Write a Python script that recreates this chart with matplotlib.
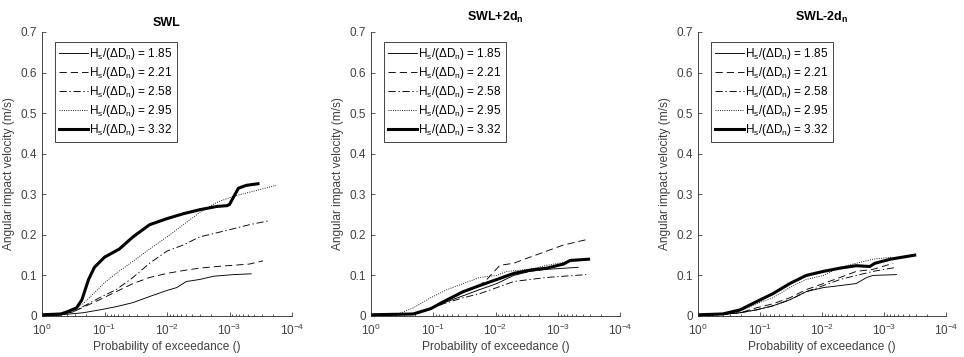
import matplotlib
matplotlib.use("Agg")
import matplotlib.pyplot as plt
import numpy as np

plt.rcParams['font.family'] = ['Liberation Sans', 'DejaVu Sans']
plt.rcParams['mathtext.fontset'] = 'custom'
plt.rcParams['mathtext.rm'] = 'Liberation Sans'
plt.rcParams['mathtext.it'] = 'Liberation Sans'
plt.rcParams['mathtext.bf'] = 'Liberation Sans:bold'
plt.rcParams['mathtext.default'] = 'regular'

titles = ['SWL', r'SWL+2d$_\mathbf{n}$', r'SWL-2d$_\mathbf{n}$']
labels = ['1.85', '2.21', '2.58', '2.95', '3.32']

# ---- SWL ----
swl_p_185 = [1, 0.5, 0.22, 0.12, 0.065, 0.035, 0.019, 0.01, 0.007, 0.0049, 0.003, 0.0018, 0.00087, 0.00045]
swl_v_185 = [0.001, 0.003, 0.008, 0.015, 0.023, 0.033, 0.048, 0.063, 0.07, 0.085, 0.09, 0.098, 0.102, 0.104]
swl_p_221 = [1, 0.5, 0.32, 0.12, 0.065, 0.035, 0.019, 0.01, 0.0055, 0.003, 0.0016, 0.00087, 0.00048, 0.00029]
swl_v_221 = [0.001, 0.003, 0.01, 0.04, 0.06, 0.08, 0.095, 0.105, 0.112, 0.118, 0.122, 0.125, 0.128, 0.136]
swl_p_258 = [1, 0.5, 0.32, 0.12, 0.065, 0.035, 0.019, 0.01, 0.0055, 0.003, 0.0016, 0.00087, 0.00048, 0.00023]
swl_v_258 = [0.001, 0.003, 0.01, 0.045, 0.065, 0.095, 0.13, 0.16, 0.175, 0.195, 0.205, 0.215, 0.225, 0.235]
swl_p_295 = [1, 0.5, 0.4, 0.22, 0.1, 0.065, 0.035, 0.019, 0.01, 0.0055, 0.003, 0.0016, 0.00087, 0.00048, 0.00018]
swl_v_295 = [0.002, 0.004, 0.008, 0.03, 0.082, 0.105, 0.135, 0.165, 0.195, 0.225, 0.255, 0.28, 0.295, 0.305, 0.322]
swl_p_332 = [1, 0.5, 0.4, 0.28, 0.23, 0.18, 0.145, 0.1, 0.058, 0.035, 0.019, 0.01, 0.0055, 0.003, 0.0016, 0.0011, 0.001, 0.00072, 0.00054, 0.00035]
swl_v_332 = [0.003, 0.005, 0.01, 0.02, 0.04, 0.09, 0.12, 0.145, 0.165, 0.195, 0.225, 0.24, 0.252, 0.262, 0.27, 0.272, 0.275, 0.315, 0.322, 0.326]

# ---- SWL+2dn ----
up_p_185 = [1, 0.21, 0.11, 0.069, 0.033, 0.018, 0.0095, 0.0051, 0.0028, 0.0015, 0.00047]
up_v_185 = [0.002, 0.004, 0.018, 0.032, 0.05, 0.065, 0.08, 0.1, 0.11, 0.115, 0.12]
up_p_221 = [1, 0.21, 0.11, 0.069, 0.033, 0.018, 0.0138, 0.0085, 0.0051, 0.0028, 0.0015, 0.00081, 0.00035]
up_v_221 = [0.003, 0.005, 0.018, 0.035, 0.06, 0.075, 0.09, 0.125, 0.13, 0.145, 0.16, 0.175, 0.188]
up_p_258 = [1, 0.21, 0.11, 0.069, 0.033, 0.018, 0.0095, 0.0051, 0.0028, 0.0015, 0.00081, 0.00035]
up_v_258 = [0.002, 0.004, 0.018, 0.03, 0.045, 0.055, 0.07, 0.085, 0.09, 0.095, 0.098, 0.102]
up_p_295 = [1, 0.39, 0.21, 0.11, 0.06, 0.033, 0.018, 0.0095, 0.0066, 0.0028, 0.0015, 0.00081, 0.00035]
up_v_295 = [0.002, 0.003, 0.02, 0.045, 0.065, 0.08, 0.095, 0.1, 0.11, 0.115, 0.125, 0.132, 0.138]
up_p_332 = [1, 0.21, 0.11, 0.069, 0.033, 0.018, 0.0095, 0.0051, 0.0028, 0.0015, 0.00081, 0.00063, 0.00032]
up_v_332 = [0.003, 0.005, 0.018, 0.035, 0.06, 0.075, 0.09, 0.105, 0.113, 0.118, 0.128, 0.137, 0.14]

# ---- SWL-2dn ----
dn_p_185 = [1, 0.4, 0.21, 0.115, 0.062, 0.033, 0.018, 0.0095, 0.0051, 0.0028, 0.0019, 0.0015, 0.00063]
dn_v_185 = [0.002, 0.004, 0.008, 0.015, 0.025, 0.04, 0.06, 0.07, 0.075, 0.08, 0.095, 0.1, 0.102]
dn_p_221 = [1, 0.4, 0.21, 0.115, 0.062, 0.033, 0.018, 0.0095, 0.0051, 0.0028, 0.0015, 0.00071]
dn_v_221 = [0.002, 0.004, 0.008, 0.02, 0.03, 0.045, 0.065, 0.08, 0.095, 0.11, 0.115, 0.13]
dn_p_258 = [1, 0.4, 0.21, 0.115, 0.062, 0.033, 0.018, 0.0095, 0.0051, 0.0028, 0.0015, 0.00063]
dn_v_258 = [0.002, 0.004, 0.008, 0.015, 0.025, 0.04, 0.06, 0.075, 0.09, 0.1, 0.11, 0.12]
dn_p_295 = [1, 0.4, 0.21, 0.115, 0.062, 0.033, 0.018, 0.0095, 0.0051, 0.0028, 0.0015, 0.00074]
dn_v_295 = [0.002, 0.004, 0.012, 0.03, 0.045, 0.07, 0.09, 0.1, 0.12, 0.13, 0.14, 0.145]
dn_p_332 = [1, 0.4, 0.21, 0.115, 0.062, 0.033, 0.018, 0.0095, 0.0051, 0.0028, 0.0017, 0.0014, 0.00079, 0.00032]
dn_v_332 = [0.003, 0.005, 0.015, 0.035, 0.055, 0.08, 0.1, 0.11, 0.118, 0.124, 0.122, 0.13, 0.14, 0.15]

panels = [
    [(swl_p_185, swl_v_185), (swl_p_221, swl_v_221), (swl_p_258, swl_v_258), (swl_p_295, swl_v_295), (swl_p_332, swl_v_332)],
    [(up_p_185, up_v_185), (up_p_221, up_v_221), (up_p_258, up_v_258), (up_p_295, up_v_295), (up_p_332, up_v_332)],
    [(dn_p_185, dn_v_185), (dn_p_221, dn_v_221), (dn_p_258, dn_v_258), (dn_p_295, dn_v_295), (dn_p_332, dn_v_332)],
]

styles = [
    dict(ls='-', lw=0.65),
    dict(ls=(0, (8, 4.5)), lw=0.65),
    dict(ls=(0, (8, 3, 1.5, 3)), lw=0.65),
    dict(ls=(0, (1, 1.5)), lw=0.65),
    dict(ls='-', lw=2.2),
]

axcol = '#262626'
fig = plt.figure(figsize=(9.64, 3.57), dpi=100)
lefts = [42, 371, 698]
widths = [250, 249, 248]
pads = [4, 8, 8]
for i, (l, w) in enumerate(zip(lefts, widths)):
    ax = fig.add_axes([l / 964, 1 - 316 / 357, w / 964, 284 / 357])
    for (p, v), st, lab in zip(panels[i], styles, labels):
        ax.plot(p, v, color='black', label=r'H$_s$/(ΔD$_n$) = ' + lab, **st)
    ax.set_xscale('log')
    ax.set_xlim(1, 1e-4)
    ax.set_ylim(0, 0.7)
    ax.set_xticks([1, 1e-1, 1e-2, 1e-3, 1e-4])
    ax.set_yticks(np.arange(0, 0.71, 0.1))
    ax.set_yticklabels(['0', '0.1', '0.2', '0.3', '0.4', '0.5', '0.6', '0.7'])
    for s in ['top', 'right']:
        ax.spines[s].set_visible(False)
    for s in ['left', 'bottom']:
        ax.spines[s].set_color(axcol)
        ax.spines[s].set_linewidth(0.6)
    ax.tick_params(which='both', direction='in', colors='#404040', labelsize=8.5, width=0.6)
    ax.tick_params(axis='y', which='major', length=3, pad=3.5)
    ax.tick_params(axis='x', which='major', length=3, pad=5)
    ax.tick_params(which='minor', length=1.8)
    ax.set_xlabel('Probability of exceedance ()', fontsize=8.6, color='#404040', labelpad=2)
    ax.set_ylabel('Angular impact velocity (m/s)', fontsize=8.6, color='#404040', labelpad=4)
    ax.set_title(titles[i], fontsize=9, fontweight='bold', color='black', pad=pads[i])
    leg = ax.legend(loc='upper left', bbox_to_anchor=(0.052, 0.965), borderaxespad=0,
                    fontsize=8.5, handlelength=2.45, handletextpad=0.1, labelspacing=0.25,
                    borderpad=0.35, fancybox=False, framealpha=1, edgecolor=axcol)
    leg.get_frame().set_linewidth(0.6)

fig.savefig('out.png', dpi=100)
